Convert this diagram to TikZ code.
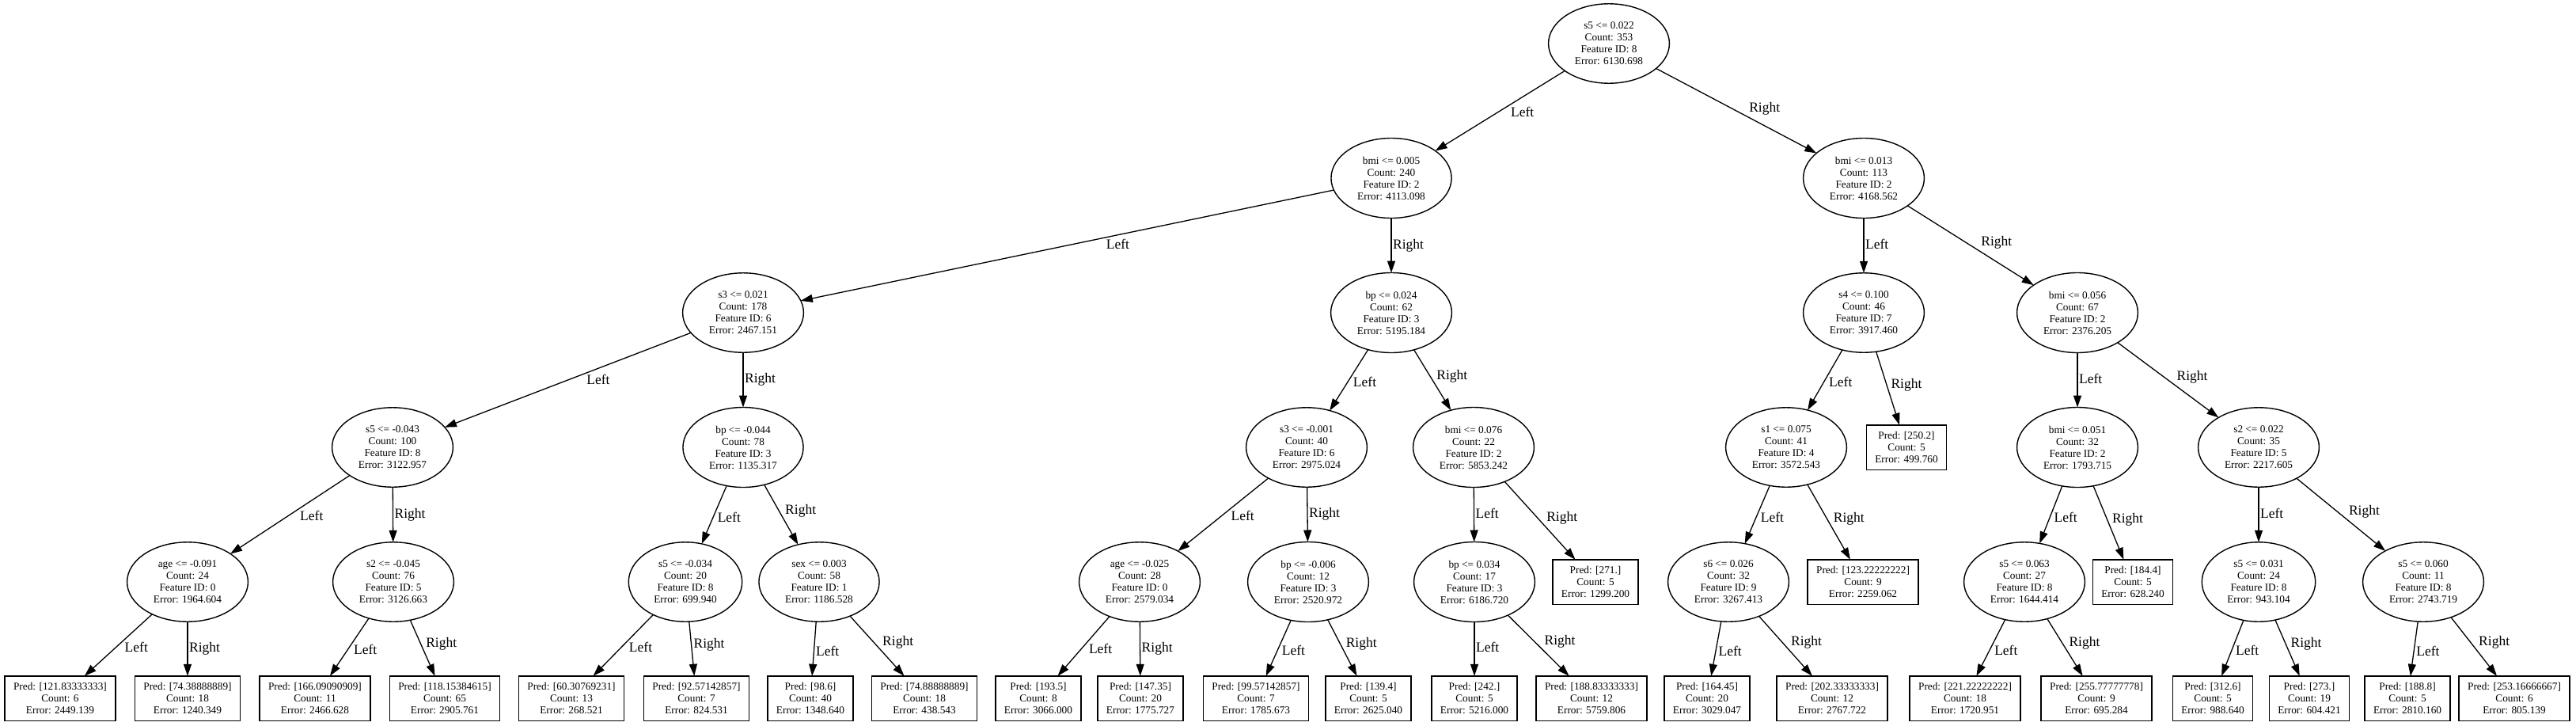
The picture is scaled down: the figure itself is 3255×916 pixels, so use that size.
\documentclass[tikz,border=0pt]{standalone}
\usepackage{fontspec}
\setmainfont{Liberation Serif}
\usetikzlibrary{shapes.geometric,arrows.meta}
\begin{document}
\begin{tikzpicture}[x=1pt,y=-1pt,
  splitnode/.style={ellipse, draw, line width=1.4pt, inner xsep=11pt, inner ysep=8.5pt, outer sep=0pt, align=center, font=\fontsize{13.3}{15}\selectfont},
  leafbox/.style={rectangle, draw, line width=1.4pt, inner xsep=11pt, inner ysep=8.5pt, outer sep=0pt, align=center, font=\fontsize{13.3}{15}\selectfont},
  conn/.style={line width=1.3pt, -{Triangle[length=15pt,width=10pt]}},
  lbl/.style={font=\fontsize{17.5}{18}\selectfont, inner sep=1.5pt, text height=12pt, text depth=4pt},
  lblL/.style={lbl, pos=0.43, anchor=north west},
  lblR/.style={lbl, pos=0.57, anchor=south west},
  lblV/.style={lbl, pos=0.5, anchor=west},
]
\useasboundingbox (0,0) rectangle (3255,916);
\fill[white] (0,0) rectangle (3255,916);

% level 0
\node[splitnode] (n0) at (2033,55) {s5 <= 0.022\\Count: 353\\Feature ID: 8\\Error: 6130.698};
% level 1
\node[splitnode] (n1) at (1758,225) {bmi <= 0.005\\Count: 240\\Feature ID: 2\\Error: 4113.098};
\node[splitnode] (n2) at (2355,225) {bmi <= 0.013\\Count: 113\\Feature ID: 2\\Error: 4168.562};
% level 2
\node[splitnode] (n3) at (939,395) {s3 <= 0.021\\Count: 178\\Feature ID: 6\\Error: 2467.151};
\node[splitnode] (n4) at (1758,395) {bp <= 0.024\\Count: 62\\Feature ID: 3\\Error: 5195.184};
\node[splitnode] (n5) at (2355,395) {s4 <= 0.100\\Count: 46\\Feature ID: 7\\Error: 3917.460};
\node[splitnode] (n6) at (2625,395) {bmi <= 0.056\\Count: 67\\Feature ID: 2\\Error: 2376.205};
% level 3
\node[splitnode] (n7) at (496,565) {s5 <= -0.043\\Count: 100\\Feature ID: 8\\Error: 3122.957};
\node[splitnode] (n8) at (939,565) {bp <= -0.044\\Count: 78\\Feature ID: 3\\Error: 1135.317};
\node[splitnode] (n9) at (1651,565) {s3 <= -0.001\\Count: 40\\Feature ID: 6\\Error: 2975.024};
\node[splitnode] (n10) at (1862,565) {bmi <= 0.076\\Count: 22\\Feature ID: 2\\Error: 5853.242};
\node[splitnode] (n11) at (2257,565) {s1 <= 0.075\\Count: 41\\Feature ID: 4\\Error: 3572.543};
\node[leafbox] (n12) at (2409,565) {Pred: [250.2]\\Count: 5\\Error: 499.760};
\node[splitnode] (n13) at (2625,565) {bmi <= 0.051\\Count: 32\\Feature ID: 2\\Error: 1793.715};
\node[splitnode] (n14) at (2854,565) {s2 <= 0.022\\Count: 35\\Feature ID: 5\\Error: 2217.605};
% level 4
\node[splitnode] (n15) at (237,735) {age <= -0.091\\Count: 24\\Feature ID: 0\\Error: 1964.604};
\node[splitnode] (n16) at (497,735) {s2 <= -0.045\\Count: 76\\Feature ID: 5\\Error: 3126.663};
\node[splitnode] (n17) at (866,735) {s5 <= -0.034\\Count: 20\\Feature ID: 8\\Error: 699.940};
\node[splitnode] (n18) at (1035,735) {sex <= 0.003\\Count: 58\\Feature ID: 1\\Error: 1186.528};
\node[splitnode] (n19) at (1440,735) {age <= -0.025\\Count: 28\\Feature ID: 0\\Error: 2579.034};
\node[splitnode] (n20) at (1653,735) {bp <= -0.006\\Count: 12\\Feature ID: 3\\Error: 2520.972};
\node[splitnode] (n21) at (1863,735) {bp <= 0.034\\Count: 17\\Feature ID: 3\\Error: 6186.720};
\node[leafbox] (n22) at (2016,735) {Pred: [271.]\\Count: 5\\Error: 1299.200};
\node[splitnode] (n23) at (2184,735) {s6 <= 0.026\\Count: 32\\Feature ID: 9\\Error: 3267.413};
\node[leafbox] (n24) at (2354,735) {Pred: [123.22222222]\\Count: 9\\Error: 2259.062};
\node[splitnode] (n25) at (2558,735) {s5 <= 0.063\\Count: 27\\Feature ID: 8\\Error: 1644.414};
\node[leafbox] (n26) at (2695,735) {Pred: [184.4]\\Count: 5\\Error: 628.240};
\node[splitnode] (n27) at (2854,735) {s5 <= 0.031\\Count: 24\\Feature ID: 8\\Error: 943.104};
\node[splitnode] (n28) at (3062,735) {s5 <= 0.060\\Count: 11\\Feature ID: 8\\Error: 2743.719};
% level 5 leaves
\node[leafbox] (l1) at (76,882) {Pred: [121.83333333]\\Count: 6\\Error: 2449.139};
\node[leafbox] (l2) at (237,882) {Pred: [74.38888889]\\Count: 18\\Error: 1240.349};
\node[leafbox] (l3) at (398,882) {Pred: [166.09090909]\\Count: 11\\Error: 2466.628};
\node[leafbox] (l4) at (562,882) {Pred: [118.15384615]\\Count: 65\\Error: 2905.761};
\node[leafbox] (l5) at (722,882) {Pred: [60.30769231]\\Count: 13\\Error: 268.521};
\node[leafbox] (l6) at (880,882) {Pred: [92.57142857]\\Count: 7\\Error: 824.531};
\node[leafbox] (l7) at (1024,882) {Pred: [98.6]\\Count: 40\\Error: 1348.640};
\node[leafbox] (l8) at (1168,882) {Pred: [74.88888889]\\Count: 18\\Error: 438.543};
\node[leafbox] (l9) at (1312,882) {Pred: [193.5]\\Count: 8\\Error: 3066.000};
\node[leafbox] (l10) at (1441,882) {Pred: [147.35]\\Count: 20\\Error: 1775.727};
\node[leafbox] (l11) at (1587,882) {Pred: [99.57142857]\\Count: 7\\Error: 1785.673};
\node[leafbox] (l12) at (1729,882) {Pred: [139.4]\\Count: 5\\Error: 2625.040};
\node[leafbox] (l13) at (1863,882) {Pred: [242.]\\Count: 5\\Error: 5216.000};
\node[leafbox] (l14) at (2011,882) {Pred: [188.83333333]\\Count: 12\\Error: 5759.806};
\node[leafbox] (l15) at (2157,882) {Pred: [164.45]\\Count: 20\\Error: 3029.047};
\node[leafbox] (l16) at (2315,882) {Pred: [202.33333333]\\Count: 12\\Error: 2767.722};
\node[leafbox] (l17) at (2483,882) {Pred: [221.22222222]\\Count: 18\\Error: 1720.951};
\node[leafbox] (l18) at (2649,882) {Pred: [255.77777778]\\Count: 9\\Error: 695.284};
\node[leafbox] (l19) at (2796,882) {Pred: [312.6]\\Count: 5\\Error: 988.640};
\node[leafbox] (l20) at (2918,882) {Pred: [273.]\\Count: 19\\Error: 604.421};
\node[leafbox] (l21) at (3042,882) {Pred: [188.8]\\Count: 5\\Error: 2810.160};
\node[leafbox] (l22) at (3177,882) {Pred: [253.16666667]\\Count: 6\\Error: 805.139};

% edges
\draw[conn] (n0) -- node[lblL]{Left} (n1);
\draw[conn] (n0) -- node[lblR]{Right} (n2);
\draw[conn] (n1) -- node[lblL]{Left} (n3);
\draw[conn] (n1) -- node[lblV]{Right} (n4);
\draw[conn] (n2) -- node[lblV]{Left} (n5);
\draw[conn] (n2) -- node[lblR]{Right} (n6);
\draw[conn] (n3) -- node[lblL]{Left} (n7);
\draw[conn] (n3) -- node[lblV]{Right} (n8);
\draw[conn] (n4) -- node[lblL]{Left} (n9);
\draw[conn] (n4) -- node[lblR]{Right} (n10);
\draw[conn] (n5) -- node[lblL]{Left} (n11);
\draw[conn] (n5) -- node[lblR]{Right} (n12);
\draw[conn] (n6) -- node[lblV]{Left} (n13);
\draw[conn] (n6) -- node[lblR]{Right} (n14);
\draw[conn] (n7) -- node[lblL]{Left} (n15);
\draw[conn] (n7) -- node[lblV]{Right} (n16);
\draw[conn] (n8) -- node[lblL]{Left} (n17);
\draw[conn] (n8) -- node[lblR]{Right} (n18);
\draw[conn] (n9) -- node[lblL]{Left} (n19);
\draw[conn] (n9) -- node[lblV]{Right} (n20);
\draw[conn] (n10) -- node[lblV]{Left} (n21);
\draw[conn] (n10) -- node[lblR]{Right} (n22);
\draw[conn] (n11) -- node[lblL]{Left} (n23);
\draw[conn] (n11) -- node[lblR]{Right} (n24);
\draw[conn] (n13) -- node[lblL]{Left} (n25);
\draw[conn] (n13) -- node[lblR]{Right} (n26);
\draw[conn] (n14) -- node[lblV]{Left} (n27);
\draw[conn] (n14) -- node[lblR]{Right} (n28);
\draw[conn] (n15) -- node[lblL]{Left} (l1);
\draw[conn] (n15) -- node[lblV]{Right} (l2);
\draw[conn] (n16) -- node[lblL]{Left} (l3);
\draw[conn] (n16) -- node[lblR]{Right} (l4);
\draw[conn] (n17) -- node[lblL]{Left} (l5);
\draw[conn] (n17) -- node[lblR]{Right} (l6);
\draw[conn] (n18) -- node[lblL]{Left} (l7);
\draw[conn] (n18) -- node[lblR]{Right} (l8);
\draw[conn] (n19) -- node[lblL]{Left} (l9);
\draw[conn] (n19) -- node[lblV]{Right} (l10);
\draw[conn] (n20) -- node[lblL]{Left} (l11);
\draw[conn] (n20) -- node[lblR]{Right} (l12);
\draw[conn] (n21) -- node[lblV]{Left} (l13);
\draw[conn] (n21) -- node[lblR]{Right} (l14);
\draw[conn] (n23) -- node[lblL]{Left} (l15);
\draw[conn] (n23) -- node[lblR]{Right} (l16);
\draw[conn] (n25) -- node[lblL]{Left} (l17);
\draw[conn] (n25) -- node[lblR]{Right} (l18);
\draw[conn] (n27) -- node[lblL]{Left} (l19);
\draw[conn] (n27) -- node[lblR]{Right} (l20);
\draw[conn] (n28) -- node[lblL]{Left} (l21);
\draw[conn] (n28) -- node[lblR]{Right} (l22);
\end{tikzpicture}
\end{document}
